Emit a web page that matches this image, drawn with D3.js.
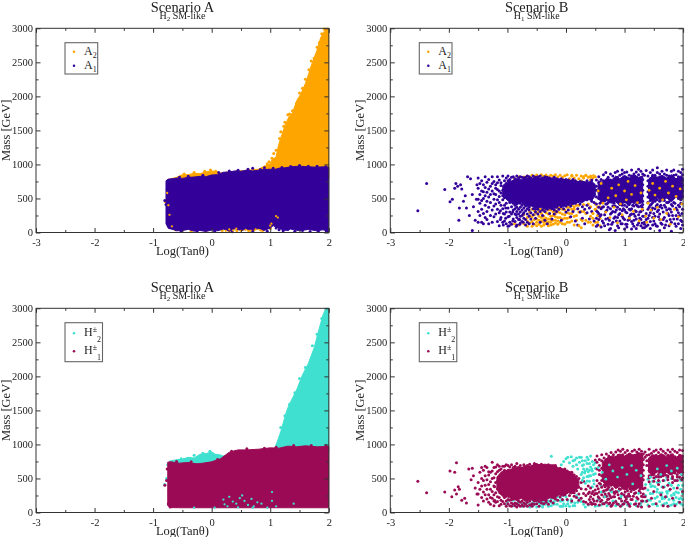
<!DOCTYPE html>
<html><head><meta charset="utf-8">
<script src="https://cdnjs.cloudflare.com/ajax/libs/d3/7.8.5/d3.min.js"></script>
<style>html,body{margin:0;background:#fff}svg{display:block;filter:blur(.3px)}text{font-family:"Liberation Serif",serif;fill:#222}</style>
</head><body><svg id="c" width="685" height="537"></svg>
<script>
const xTicks=[-3,-2,-1,0,1,2], xMinor=[-2.5,-1.5,-0.5,0.5,1.5];
const yTicks=[0,500,1000,1500,2000,2500,3000], yMinor=[250,750,1250,1750,2250,2750];
const orange="#ffa500", indigo="#33009a", turq="#40e0d0", maroon="#9b0b55";

// Envelopes [log tan, low mass, high mass] of the saturated regions
const a2AEnv=[[-.72,700,785],[-.6,700,810],[-.52,700,845],[-.4,700,850],[-.3,700,870],[-.2,700,865],[-.1,700,890],[0,700,905],[.08,700,895],[.15,700,875],[.3,700,890],[.8,800,930],[.92,800,985],[1,800,1010],[1.03,800,1070],[1.1,800,1110],[1.14,800,1280],[1.2,800,1440],[1.26,800,1590],[1.32,800,1700],[1.38,800,1760],[1.46,800,1950],[1.52,800,2030],[1.6,800,2190],[1.66,800,2340],[1.72,800,2500],[1.8,800,2680],[1.86,800,2860],[1.92,800,2950],[1.95,800,3000],[2,800,3000]];
const a1AEnv=[[-.78,130,760],[-.74,60,785],[-.66,45,790],[-.6,25,800],[-.5,30,795],[-.4,45,810],[-.3,20,815],[-.2,30,825],[-.1,15,820],[0,35,845],[.1,25,850],[.2,50,885],[.3,20,890],[.4,55,905],[.5,30,900],[.6,50,915],[.7,35,905],[.8,60,915],[.9,30,925],[1,65,930],[1.05,100,920],[1.15,60,945],[1.25,30,950],[1.35,50,965],[1.5,25,975],[1.65,45,965],[1.8,25,960],[1.9,40,965],[2,15,960]];
const h2AEnv=[[-.72,600,755],[-.6,600,775],[-.5,600,785],[-.4,600,810],[-.3,600,800],[-.2,600,855],[-.1,600,865],[0,600,890],[.05,600,860],[.15,600,845],[.2,600,830],[1.08,900,945],[1.14,900,1090],[1.18,900,1190],[1.22,900,1310],[1.28,900,1490],[1.32,900,1580],[1.38,900,1680],[1.45,900,1800],[1.55,900,2020],[1.65,900,2190],[1.75,900,2420],[1.82,900,2650],[1.9,900,2900],[1.95,900,3000],[2,900,3000]];
const h1AEnv=[[-.75,100,740],[-.7,72,745],[-.55,70,725],[-.4,70,735],[-.25,70,715],[-.15,70,725],[0,70,745],[.15,70,790],[.3,70,885],[.38,70,905],[.45,70,920],[.6,70,920],[.8,70,930],[1,70,950],[1.15,70,945],[1.3,70,975],[1.45,70,965],[1.6,70,980],[1.8,70,965],[2,70,970]];
const a1BEnv=[[-1.08,560,690],[-1,470,740],[-.92,430,760],[-.84,410,790],[-.76,440,780],[-.68,380,800],[-.6,400,790],[-.52,350,815],[-.44,370,800],[-.36,340,810],[-.28,370,790],[-.2,350,795],[-.12,390,770],[-.04,380,780],[.04,420,765],[.12,410,770],[.2,450,745],[.28,440,755],[.36,490,730],[.44,470,760],[.5,540,690]];
const a1BEnvR=[[.55,500,760],[.62,430,740],[.7,470,800],[.78,430,770],[.85,450,830],[.92,400,790],[1,440,840],[1.08,410,800],[1.16,460,850],[1.24,420,810],[1.31,440,830]];
const a1BEnvR2=[[1.41,500,780],[1.48,450,840],[1.56,510,810],[1.64,460,840],[1.72,510,800],[1.8,450,850],[1.88,520,790],[1.96,470,830],[2,500,810]];
const h1BEnv=[[-1.18,330,520],[-1.1,250,600],[-1,230,620],[-.92,200,640],[-.84,180,670],[-.76,210,660],[-.68,170,690],[-.6,190,680],[-.52,160,720],[-.44,190,700],[-.36,170,710],[-.28,220,700],[-.2,200,700],[-.12,260,650],[-.04,240,640],[.04,290,610],[.1,270,590],[.16,320,530],[.22,370,470]];
const h1BEnvR=[[.62,460,740],[.7,380,800],[.78,420,830],[.85,350,810],[.92,390,860],[1,330,830],[1.08,370,870],[1.16,320,840],[1.24,360,880],[1.31,340,860]];
const h1BEnvR2=[[1.41,590,800],[1.48,550,850],[1.56,600,830],[1.64,540,860],[1.72,590,820],[1.8,550,860],[1.88,600,810],[1.96,560,850],[2,590,830]];

// Scattered edge points, scenario A
const a2AEdge=[[-.79,450],[-.76,520],[-.72,340],[-.68,120],[-.62,40],[-.35,20],[-.1,25],[.18,30],[.24,70],[.3,20],[.4,70],[.43,25],[.52,40],[.6,60],[.63,30],[.72,35],[.8,60],[.87,30],[1,60],[1.07,820],[1.0,860],[.9,960],[.95,1010],[.98,1040],[1.03,1090],[1.06,1160],[1.1,1210],[1.16,1380],[1.18,1480],[1.23,1560],[1.25,1620],[1.3,1730],[1.33,1740],[1.38,1790],[1.45,1900],[1.5,2050],[1.55,2120],[1.6,2250],[1.66,2390],[1.7,2520],[1.75,2560],[1.8,2720],[1.84,2790],[1.88,2920],[1.92,2990],[-.47,860],[-.3,880],[-.12,900],[-.02,920],[.07,900]];
const a2ASpecks=[[.24,25],[.3,45],[.37,30],[.42,55],[.5,25],[.58,40],[.66,25],[.75,45],[.83,30],[1,100],[1.02,130],[1.1,240],[1.13,220],[-.76,580],[-.74,400],[-.72,260],[-.68,90]];
const a1AEdge=[[-.8,470],[-.78,410],[-.76,640],[-.74,760],[-.7,100],[-.64,60],[-.55,810],[-.4,825],[-.15,840],[.12,880],[.3,905],[.45,915],[.62,930],[.7,945],[.83,925],[.9,950],[1.05,945],[1.2,955],[1.35,970],[1.5,985],[1.65,975],[1.8,975],[1.95,965],[1.15,40],[1.22,25],[1.3,45],[1.42,20],[1.55,30],[1.68,15],[1.82,20],[1.96,15],[1.1,65],[-.52,20],[-.25,15],[.05,15],[.35,10],[.7,15],[.95,20]];
const h2AEdge=[[-.8,410],[-.77,500],[-.75,700],[-.73,320],[-.7,100],[-.03,900],[-.15,870],[-.3,840],[.02,860],[-.52,790],[1.12,1000],[1.18,1250],[1.25,1420],[1.33,1590],[1.42,1760],[1.5,1970],[1.6,2130],[1.72,2450],[1.8,2620],[1.88,2850]];
const h2ASpecks=[[.2,190],[.22,120],[.27,90],[.3,230],[.36,160],[.42,130],[.48,210],[.52,250],[.56,170],[.62,110],[.68,200],[.72,90],[.78,150],[.85,130],[1.03,300],[1.03,170],[1.1,90],[-.3,70],[.05,70],[.45,75],[.7,70],[.95,70],[1.4,130]];
const h1AEdge=[[-.8,400],[-.77,470],[-.76,640],[-.74,130],[-.71,80],[-.6,750],[-.35,745],[.1,780],[.34,900],[.6,935],[.9,945],[1.1,960],[1.4,985],[1.7,985],[1.95,980]];

// Scenario B columns: [log tan, mass, mass, ...]
const a2BCols=[[-.88,790,130],[-.8,820,190,110],[-.72,815,130,260],[-.66,830,220,90,170],[-.62,810,300,140,250],[-.58,840,90,160,340,230],[-.54,825,260,120,190,320],[-.5,845,200,100,290,150],[-.46,820,120,310,240,180,350],[-.42,850,170,90,280,340,220],[-.38,825,240,110,190,320,150],[-.34,845,290,130,210,350,170],[-.3,820,200,100,270,330,150],[-.26,840,150,330,240,190,110],[-.22,830,250,180,300,120],[-.18,850,180,320,230,140,280],[-.14,815,300,220,120,360,170],[-.1,840,220,360,290,150],[-.06,810,130,270,340,200],[-.02,835,330,210,260,120],[.02,850,210,370,150,290],[.06,790,370,150,280,220],[.1,840,280,340,170,400],[.14,800,340,110,240,380],[.18,840,745,250,400,180],[.22,790,100,300,400],[.26,830,760,70,310,190],[.3,800,740,310,410],[.34,840,730,180,280],[.38,810,700,420,150],[.42,830,770,240,380],[.46,800,280,210,110],[.5,820,340,150,420],[.54,150,380,250],[.58,380,210,100]];
const a1BCols=[[-1.5,800,650,490,310,150],[-1.47,720,560,430,250],[-1.44,610,760,340,150,470],[-1.41,700,500,280,130,600],[-1.38,820,660,400,220,540],[-1.35,740,590,310,460,190],[-1.32,780,520,370,130,640],[-1.29,680,440,250,560],[-1.26,820,610,330,150,720],[-1.23,750,490,230,570,390],[-1.2,700,560,270,420,650],[-1.17,820,630,480,340,160,730],[-1.14,770,530,290,440,610,100],[-1.11,690,400,220,580,730],[-1.08,830,620,350,150,480,540],[-1.05,760,510,270,170,660,400],[-1.02,720,590,430,300,800,130],[-.99,830,650,360,230,500,90,760],[-.96,780,570,440,150,300,690],[-.93,810,620,380,270,120,470,730],[-.9,750,520,330,200,660,430,820],[-.87,790,600,400,270,160,350,510],[-.84,830,420,310,220,110,370],[-.81,800,450,340,190,270],[-.78,820,430,300,140,370,240],[-.75,810,400,250,160,330],[-.72,800,360,290,210],[-.69,810,390,190,320,110],[-.66,830,350,150,270],[-.63,820,370,240,330,130],[-.6,800,400,290,200],[-.56,830,350,260,130],[-.52,810,300,210,340],[-.48,820,340,270],[-.44,830,310,150],[-.4,800,330,250],[-.36,820,310,180],[-.32,810,340,130],[-.28,800,360,280],[-.24,790,350,200],[-.2,810,330,270],[-.16,790,370,310],[-.12,780,340],[-.08,790,380,180],[-.04,770,350],[0,780,390,300],[.04,770,410,330],[.08,750,390,230],[.12,780,440,310],[.16,760,430,170],[.2,740,450,350,110],[.24,750,420,300],[.28,740,470,380,210],[.32,730,500,340,130],[.36,760,480,400,290],[.4,720,520,360,200],[.44,770,460,640,310],[.48,700,560,620,440,170]];
const a1BColsR=[[.52,770,620,520,420,320,210,680,90],[.56,820,730,600,500,190,370,280,640],[.6,700,560,440,260,80,650,350,780],[.64,850,760,680,590,380,140,470,520],[.68,880,720,580,310,490,200,640,420],[.72,810,660,540,440,210,120,590,370,750],[.76,860,770,700,600,510,270,60,350,450],[.8,830,740,620,530,390,150,470,680,310],[.84,880,790,680,560,300,30,470,610,390,230],[.88,900,810,720,640,460,220,100,530,370],[.92,840,760,700,590,500,280,170,410,650,340],[.96,920,860,780,670,560,400,130,480,320,610,240],[1,880,810,730,620,520,330,50,450,680,400,190],[1.04,890,790,710,590,480,380,80,640,290,540,120],[1.08,840,760,680,610,410,500,230,560,340,190],[1.12,920,830,720,640,560,460,160,350,50,270],[1.16,860,780,700,620,520,90,440,270,390,580,180],[1.2,890,810,730,650,560,490,200,60,410,310,610],[1.24,930,850,770,690,610,530,140,380,450,260],[1.28,900,800,720,640,560,470,100,390,190,310],[1.31,860,780,700,620,540,460,330,70,240,410],[1.34,840,240,150,70,120],[1.37,910,280,190,90],[1.4,830,760,680,600,520,440,340,110,210],[1.44,880,790,710,630,550,470,400,290,60,160],[1.48,920,840,760,680,600,520,440,360,220,110],[1.52,840,770,690,610,530,460,240,130,350],[1.56,950,880,800,720,640,560,480,410,310,90],[1.6,860,790,710,630,550,460,270,190,30,380],[1.64,900,820,740,660,580,500,120,360],[1.68,860,790,710,630,550,470,400,220,70],[1.72,920,840,760,680,600,520,440,330,170],[1.76,830,770,690,610,530,450,250,100,350],[1.8,900,810,730,650,570,490,410,300,150,20],[1.84,920,840,760,680,600,520,440,200],[1.88,850,770,690,610,530,360,250,90],[1.92,900,820,740,660,580,500,400,290,130],[1.96,880,800,720,640,560,480,430,180,60],[1.99,930,850,770,690,610,530,340,110]];
const a1BLow=[[-1.12,320,190],[-1.07,280,110],[-1.03,210,360],[-.97,240,100],[-.91,170,300],[-.85,260,90],[-.79,190,120],[-.73,150,270],[.54,300,110],[.58,240,430],[.62,370,170],[.66,260,100],[.7,330,420],[.74,180,40],[.78,290,120],[.82,430,210],[.86,330,170],[.9,260,70],[.94,430,130],[.98,350,210],[1.02,300,120],[1.06,420,180],[1.1,260,330],[1.14,130,400],[1.18,320,240],[1.22,390,110],[1.26,210,300],[1.3,140,370],[1.42,370,250],[1.46,420,330],[1.5,280,170],[1.54,390,100],[1.58,230,330],[1.62,400,140],[1.66,300,190],[1.7,370,110],[1.74,280,440],[1.78,340,190],[1.82,250,390],[1.86,130,430],[1.9,330,200],[1.94,380,250],[1.98,280,160]];
const a1BSparse=[[-2.53,320],[-2.38,720],[-2.07,630],[-1.98,450],[-1.94,490],[-1.9,650],[-1.88,720],[-1.85,680],[-1.82,360],[-1.83,180],[-1.8,700],[-1.78,640],[-1.75,460],[-1.72,540],[-1.7,360],[-1.68,820],[-1.65,250],[-1.63,790],[-1.6,30],[-1.6,560],[-1.58,380],[-1.55,180],[-1.53,490],[-1.52,700]];
const a2BFleck=[[.55,610],[.6,720],[.63,430],[.68,300],[.72,510],[.75,220],[.78,650],[.82,370],[.85,540],[.88,140],[.9,700],[.93,420],[.96,260],[1,610],[1.03,480],[1.06,750],[1.08,210],[1.12,560],[1.15,310],[1.18,690],[1.22,440],[1.25,170],[1.28,580],[1.3,340],[1.36,240],[1.38,150],[1.4,430],[1.42,620],[1.45,330],[1.48,720],[1.5,210],[1.52,550],[1.56,370],[1.6,650],[1.62,190],[1.65,480],[1.7,750],[1.72,280],[1.75,580],[1.78,120],[1.82,680],[1.85,340],[1.88,530],[1.92,230],[1.95,640],[1.98,420],[.46,280],[.5,340],[.42,150],[.28,170],[.22,100],[.42,810],[.47,835],[.3,820],[.1,825],[.34,840]];

const h2BCols=[[-.08,700,170,90],[-.04,750,130],[0,790,230,100],[.03,810,130,175],[.06,730,90],[.09,820,190,150],[.12,680,760,100],[.15,770,100,140],[.18,800,700,250],[.2,640,480,150],[.23,740,810,210],[.26,810,560,160],[.28,590,690,760],[.3,700,510,640,120],[.33,760,430,610,80],[.36,640,530,720,810],[.38,530,600,780,110],[.4,720,620,460],[.42,830,670,540],[.45,610,380,750,130],[.47,470,700,560],[.5,570,730,650,90],
[-1,120,160],[-.9,100,180],[-.82,150,110],[-.75,90,130],[-.68,130,170,100],[-.62,170,120,80],[-.56,100,150,190],[-.5,80,170,130],[-.45,140,190,100],[-.4,110,160,80],[-.35,190,150,120],[-.3,90,170,130],[-.25,150,200,100,825],[-.2,210,160,120],[-.15,120,180,230],[-.1,170,220,90],[-.05,90,180,250],
[1.36,410,250,160],[1.4,490,330,180,110],[1.44,180,420,280,520],[1.48,280,120,390,460],[1.52,380,500,210,130],[1.56,230,340,440,100],[1.6,160,450,290,520],[1.64,290,110,380,230],[1.68,380,210,470,130],[1.72,510,140,310,230],[1.76,320,430,190,100],[1.8,250,110,400,500],[1.84,360,180,280,130],[1.88,470,120,300,220],[1.92,290,400,150,520],[1.96,210,130,340,470],[1.99,400,280,110,190],[.55,190,100],[.6,110,390],[.65,140,300],[.7,450,100,240],[.75,120,330],[.8,520,170],[.85,170,100],[.9,320,120],[.95,100,260],[1,440,150],[1.05,230,110],[1.1,600,130],[1.2,170,100],[1.28,100,140]];
const h1BCols=[[-1.5,110,440,270],[-1.47,590,340],[-1.44,220,500,390,660],[-1.41,620,300,170,470],[-1.38,400,540,260,680],[-1.35,660,200,340,480],[-1.32,550,260,410,150,600],[-1.29,450,340,590,220,120],[-1.26,740,610,210,500,310],[-1.23,510,390,100,660,260,170],[-1.2,670,290,570,440,150],[-1.17,160,460,700,350,600,230],[-1.14,350,220,620,510,100,420,680],[-1.11,640,180,290,470,560,120,390],[-1.08,280,160,580,420,680,340,490],[-1.05,620,220,130,510,370,680,290],[-1.02,700,170,420,90,560,310,240],[-.99,620,130,690,460,190,530,370,260],[-.96,670,100,250,400,180,520,330],[-.93,700,140,600,90,240,190,620],[-.9,660,200,120,280,640],[-.87,680,140,240,100,620],[-.84,720,190,130,260,80],[-.81,660,110,170,230],[-.78,690,90,150,220],[-.75,650,170,110,250],[-.72,700,140,90,200],[-.69,660,120,180],[-.66,690,90,150,230],[-.62,710,110,170],[-.58,680,130,90,200],[-.54,720,170,120],[-.5,700,130,180],[-.46,690,90,160],[-.42,710,180,140],[-.38,690,130,200],[-.34,680,180,150],[-.3,700,220,120],[-.26,680,230,170],[-.22,670,140,250],[-.18,690,200,280],[-.14,640,180,270],[-.1,650,230,310],[-.06,620,190,280],[-.02,640,260,330],[.02,610,300,190],[.06,570,250,330],[.1,590,170,310],[.14,550,290,240],[.18,530,220,320],[.22,500,270,180,370],[.26,350,210,440],[.3,460,280,160],[.34,150,250,340],[.38,280,120,390],[.42,360,230,150],[.46,200,310,130],[.5,330,280,120,770]];
const h1BColsR=[[.53,830,640,470,280,170,390,740],[.57,780,690,560,300,110,430,210,620],[.61,850,760,650,540,370,180,470,260],[.65,800,700,600,500,230,130,400,320],[.69,860,780,630,530,330,150,420,240],[.73,830,750,660,560,470,130,370,280,200],[.77,880,800,720,610,510,400,220,90,320],[.81,850,770,690,590,500,300,140,230,410],[.85,890,810,730,650,570,480,390,160,310],[.89,920,840,760,680,600,520,410,260,120],[.93,900,820,740,660,580,480,340,210,90],[.97,930,850,770,690,610,530,440,120,360],[1.01,880,800,720,640,560,500,300,170,230],[1.05,910,830,750,670,590,390,150,240,320],[1.09,860,780,700,620,540,450,240,90,350],[1.13,900,820,740,660,580,340,190,510,420],[1.17,920,840,760,680,600,520,450,120,280],[1.21,890,810,730,650,570,380,220,490],[1.25,930,850,770,690,610,530,130,320,440],[1.29,900,820,740,660,580,500,80,170,240,400],[1.32,860,780,700,620,540,480,270,350],[1.35,890,810,360,230],[1.38,840,760,690,170],[1.42,930,850,780,700,620,540,90],[1.46,870,790,710,630,550,210],[1.5,900,820,740,660,580,510,310],[1.54,920,840,760,680,600,530,130],[1.58,880,800,720,640,560,410],[1.62,930,850,770,690,610,530,260],[1.66,900,810,730,650,570,470,100],[1.7,870,790,710,630,550,230],[1.74,920,840,760,680,600,520,400,90],[1.78,890,810,730,650,570,340],[1.82,930,850,770,690,610,530,210],[1.86,900,820,740,660,580,470,100],[1.9,880,800,720,640,560,360],[1.94,920,840,760,680,600,520,150],[1.99,910,830,750,670,590,510,310]];
const h1BLow=[[.55,350,230],[.59,420,160],[.63,310,130],[.67,270,380],[.71,190,340],[.75,250,140],[.79,350,110],[.83,230,280],[.87,300,130],[.91,210,350],[.95,280,170],[.99,130,260],[1.03,350,200],[1.07,270,120],[1.11,190,310],[1.15,380,240],[1.19,130,290],[1.23,200,90],[1.27,290,350],[1.31,170,230],[1.42,510,450],[1.5,460,560],[1.58,520,470],[1.66,540,370],[1.74,480,540],[1.82,500,440],[1.9,520,470],[1.98,560,480],[.4,190,300],[.44,120,280],[.48,260,170],[-1.22,180,380],[-1.13,290,520],[-1.06,240,410]];
const h1BSparse=[[-2.53,460],[-2.38,290],[-2.07,300],[-1.98,610],[-1.95,230],[-1.9,590],[-1.87,730],[-1.9,330],[-1.87,270],[-1.84,380],[-1.82,340],[-1.78,180],[-1.73,210],[-1.7,140],[-1.66,640],[-1.6,650],[-1.62,480],[-1.58,540],[-1.55,360],[-1.52,270]];
const h2BFleck=[[.55,660],[.62,590],[.68,490],[.74,700],[.8,610],[.88,520],[.96,660],[1.04,560],[1.12,690],[1.2,620],[1.28,540],[1.44,520],[1.56,640],[1.62,560],[1.72,690],[1.8,610],[1.9,650],[1.97,560],[.6,300],[.66,230],[.78,300],[.94,230],[1.14,420],[1.24,280],[1.45,380],[1.55,300],[1.64,200],[1.73,280],[1.85,260],[1.93,200],[.36,460],[.4,540],[.44,640],[.32,580],[.48,420],[.28,470]];

const flat=cols=>cols.flatMap(c=>c.slice(1).map(m=>[c[0],m]));
const panels=[
 {l:36,t:28.3,title:"Scenario A",h:"2",names:["A","A"],sup:false,c:[orange,indigo],env2:[a2AEnv],env1:[a1AEnv],pre:[a2AEdge],post:[a1AEdge],over:[a2ASpecks],rOver:1.15},
 {l:390.3,t:28.3,title:"Scenario B",h:"1",names:["A","A"],sup:false,c:[orange,indigo],env2:[],env1:[a1BEnv,a1BEnvR,a1BEnvR2],pre:[flat(a2BCols)],post:[a1BSparse,flat(a1BCols),flat(a1BColsR),flat(a1BLow)],over:[a2BFleck],rOver:1.4},
 {l:36,t:308.3,title:"Scenario A",h:"2",names:["H","H"],sup:true,c:[turq,maroon],env2:[h2AEnv],env1:[h1AEnv],pre:[h2AEdge],post:[h1AEdge],over:[h2ASpecks],rOver:1.15},
 {l:390.3,t:308.3,title:"Scenario B",h:"1",names:["H","H"],sup:true,c:[turq,maroon],env2:[],env1:[h1BEnv,h1BEnvR,h1BEnvR2],pre:[flat(h2BCols)],post:[h1BSparse,flat(h1BCols),flat(h1BColsR),flat(h1BLow)],over:[h2BFleck],rOver:1.4}
];
const W=292.8,H=204.2,svg=d3.select("#c");
const xS=d3.scaleLinear().domain([-3,2]).range([0,W]);
const yS=d3.scaleLinear().domain([0,3000]).range([H,0]);
const area=d3.area().x(d=>xS(d[0])).y0(d=>yS(d[1])).y1(d=>yS(d[2]));
panels.forEach((p,i)=>{
 const g=svg.append("g").attr("transform",`translate(${p.l},${p.t})`);
 const dots=(data,c,r)=>g.append("g").selectAll("circle").data(data).join("circle").attr("cx",d=>xS(d[0])).attr("cy",d=>yS(d[1])).attr("r",r||1.5).attr("fill",c);
 p.env2.forEach(e=>g.append("path").attr("d",area(e)).attr("fill",p.c[0]).attr("stroke",p.c[0]).attr("stroke-width",1));
 p.pre.forEach(d=>dots(d,p.c[0]));
 p.env1.forEach(e=>g.append("path").attr("d",area(e)).attr("fill",p.c[1]).attr("stroke",p.c[1]).attr("stroke-width",1));
 p.post.forEach(d=>dots(d,p.c[1]));
 p.over.forEach(d=>dots(d,p.c[0],p.rOver));
 const tick=(ax,vals,size,fmt)=>ax.tickValues(vals).tickSize(size).tickPadding(3).tickFormat(fmt);
 const none=()=>"";
 const ax=(fn,vals,size,fmt,tr)=>{const a=g.append("g").attr("transform",tr||"").call(tick(fn,vals,size,fmt));a.select(".domain").remove();a.selectAll("line").attr("stroke","#333");a.selectAll("text").attr("font-size",10.5).style("font-family",'"Liberation Serif",serif').attr("fill","#222");return a;};
 ax(d3.axisBottom(xS),xTicks,-4.5,d=>String(d),`translate(0,${H})`).selectAll("text").attr("y",6);
 ax(d3.axisBottom(xS),xMinor,-2.5,none,`translate(0,${H})`);
 ax(d3.axisTop(xS),xTicks,-4.5,none);
 ax(d3.axisTop(xS),xMinor,-2.5,none);
 ax(d3.axisLeft(yS),yTicks,-4.5,d=>String(d)).selectAll("text").attr("x",-3);
 ax(d3.axisLeft(yS),yMinor,-2.5,none);
 ax(d3.axisRight(yS),yTicks,-4.5,none,`translate(${W},0)`);
 ax(d3.axisRight(yS),yMinor,-2.5,none,`translate(${W},0)`);
 g.append("rect").attr("width",W).attr("height",H).attr("fill","none").attr("stroke","#333").attr("stroke-width",1);
 g.append("text").attr("x",W/2).attr("y",-16.8).attr("text-anchor","middle").attr("font-size",14.4).text(p.title);
 const st=g.append("text").attr("x",W/2).attr("y",-9.5).attr("text-anchor","middle").attr("font-size",10).attr("fill","#444");
 st.append("tspan").text("H"); st.append("tspan").attr("dy",2).attr("font-size",7).text(p.h); st.append("tspan").attr("dy",-2).text(" SM-like");
 g.append("text").attr("x",W/2).attr("y",H+22.3).attr("text-anchor","middle").attr("font-size",12.5).text("Log(Tanθ)");
 g.append("text").attr("transform",`translate(-26.5,${H/2}) rotate(-90)`).attr("text-anchor","middle").attr("font-size",12.5).text("Mass [GeV]");
 // legend
 const lw=p.sup?37.5:32.7, lh=p.sup?39:31.3;
 const lg=g.append("g").attr("transform","translate(29,14.4)");
 lg.append("rect").attr("width",lw).attr("height",lh).attr("fill","#fff").attr("stroke","#666").attr("stroke-width",1.1);
 const rows=p.sup?[10.6,28.6]:[9,23], subs=["2","1"];
 rows.forEach((y,k)=>{
  lg.append("circle").attr("cx",9).attr("cy",y).attr("r",1.25).attr("fill",p.c[k]);
  const t=lg.append("text").attr("x",19).attr("y",y+3).attr("font-size",12);
  t.append("tspan").text(p.names[k]);
  if(p.sup){t.append("tspan").attr("dy",-4.5).attr("font-size",8).text("±");t.append("tspan").attr("dy",10).attr("font-size",8).text(subs[k]);}
  else t.append("tspan").attr("dy",3).attr("font-size",8).text(subs[k]);
 });
});
</script></body></html>
